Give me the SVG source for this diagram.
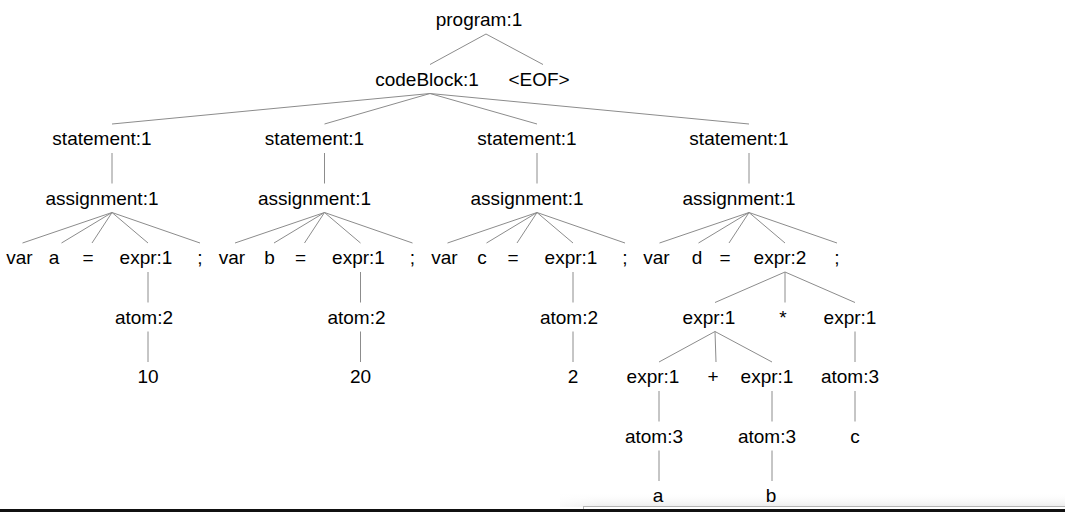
<svg xmlns="http://www.w3.org/2000/svg" width="1065" height="512" viewBox="0 0 1065 512">
<defs>
<style>
text{font-family:"Liberation Sans",Arial,Helvetica,sans-serif;font-size:19px;fill:#000;text-anchor:middle}
.edges line{stroke:#8c8c8c;stroke-width:1}
</style>
<linearGradient id="shade" x1="0" y1="0" x2="0" y2="1">
<stop offset="0" stop-color="#ffffff" stop-opacity="0"/>
<stop offset="1" stop-color="#ececec"/>
</linearGradient>
<linearGradient id="fadeL" x1="0" y1="0" x2="1" y2="0">
<stop offset="0" stop-color="#fff" stop-opacity="1"/>
<stop offset="1" stop-color="#fff" stop-opacity="0"/>
</linearGradient>
</defs>
<rect width="1065" height="512" fill="#fff"/>
<rect x="560" y="492" width="505" height="15" fill="url(#shade)"/>
<rect x="540" y="490" width="60" height="17" fill="url(#fadeL)"/>
<g id="connectors" class="edges">
<line x1="486" y1="34" x2="430" y2="64.5"/>
<line x1="486" y1="34" x2="543" y2="64.5"/>
<line x1="430" y1="93.5" x2="112" y2="124"/>
<line x1="430" y1="93.5" x2="324.5" y2="124"/>
<line x1="430" y1="93.5" x2="537" y2="124"/>
<line x1="430" y1="93.5" x2="749" y2="124"/>
<line x1="112" y1="153" x2="112" y2="183.5"/>
<line x1="324.5" y1="153" x2="324.5" y2="183.5"/>
<line x1="537" y1="153" x2="537" y2="183.5"/>
<line x1="749" y1="153" x2="749" y2="183.5"/>
<line x1="112" y1="212.5" x2="22.5" y2="243"/>
<line x1="112" y1="212.5" x2="61.5" y2="243"/>
<line x1="112" y1="212.5" x2="92" y2="243"/>
<line x1="112" y1="212.5" x2="148" y2="243"/>
<line x1="112" y1="212.5" x2="200" y2="243"/>
<line x1="324.5" y1="212.5" x2="235" y2="243"/>
<line x1="324.5" y1="212.5" x2="274" y2="243"/>
<line x1="324.5" y1="212.5" x2="304.5" y2="243"/>
<line x1="324.5" y1="212.5" x2="360.5" y2="243"/>
<line x1="324.5" y1="212.5" x2="412.5" y2="243"/>
<line x1="537" y1="212.5" x2="447.5" y2="243"/>
<line x1="537" y1="212.5" x2="486.5" y2="243"/>
<line x1="537" y1="212.5" x2="517" y2="243"/>
<line x1="537" y1="212.5" x2="573" y2="243"/>
<line x1="537" y1="212.5" x2="625" y2="243"/>
<line x1="749" y1="212.5" x2="659.5" y2="243"/>
<line x1="749" y1="212.5" x2="698.5" y2="243"/>
<line x1="749" y1="212.5" x2="729" y2="243"/>
<line x1="749" y1="212.5" x2="785" y2="243"/>
<line x1="749" y1="212.5" x2="837" y2="243"/>
<line x1="148" y1="272" x2="148" y2="302.5"/>
<line x1="360.5" y1="272" x2="360.5" y2="302.5"/>
<line x1="573" y1="272" x2="573" y2="302.5"/>
<line x1="148" y1="331.5" x2="148" y2="362"/>
<line x1="360.5" y1="331.5" x2="360.5" y2="362"/>
<line x1="573" y1="331.5" x2="573" y2="362"/>
<line x1="785" y1="272" x2="715" y2="302.5"/>
<line x1="785" y1="272" x2="785" y2="302.5"/>
<line x1="785" y1="272" x2="855" y2="302.5"/>
<line x1="715" y1="331.5" x2="659" y2="362"/>
<line x1="715" y1="331.5" x2="716" y2="362"/>
<line x1="715" y1="331.5" x2="772" y2="362"/>
<line x1="855" y1="331.5" x2="855" y2="362"/>
<line x1="659" y1="391" x2="659" y2="421.5"/>
<line x1="772" y1="391" x2="772" y2="421.5"/>
<line x1="855" y1="391" x2="855" y2="421.5"/>
<line x1="659" y1="450.5" x2="659" y2="481"/>
<line x1="772" y1="450.5" x2="772" y2="481"/>
</g>
<g id="program"><text x="479" y="26">program:1</text></g>
<g id="codeBlock"><text x="427" y="85.5">codeBlock:1</text></g>
<g id="eof"><text x="539" y="85.5">&lt;EOF&gt;</text></g>
<g id="statement1"><text x="102" y="145">statement:1</text></g>
<g id="statement2"><text x="314.5" y="145">statement:1</text></g>
<g id="statement3"><text x="527" y="145">statement:1</text></g>
<g id="statement4"><text x="739" y="145">statement:1</text></g>
<g id="assignment1"><text x="102" y="204.5">assignment:1</text></g>
<g id="assignment2"><text x="314.5" y="204.5">assignment:1</text></g>
<g id="assignment3"><text x="527" y="204.5">assignment:1</text></g>
<g id="assignment4"><text x="739" y="204.5">assignment:1</text></g>
<g id="var1"><text x="19.5" y="264">var</text></g>
<g id="id_a"><text x="54" y="264">a</text></g>
<g id="eq1"><text x="88" y="264">=</text></g>
<g id="expr1a"><text x="146" y="264">expr:1</text></g>
<g id="semi1"><text x="200" y="264">;</text></g>
<g id="var2"><text x="232" y="264">var</text></g>
<g id="id_b"><text x="269.5" y="264">b</text></g>
<g id="eq2"><text x="300.5" y="264">=</text></g>
<g id="expr1b"><text x="358.5" y="264">expr:1</text></g>
<g id="semi2"><text x="412.5" y="264">;</text></g>
<g id="var3"><text x="444.5" y="264">var</text></g>
<g id="id_c"><text x="482" y="264">c</text></g>
<g id="eq3"><text x="513" y="264">=</text></g>
<g id="expr1c"><text x="571" y="264">expr:1</text></g>
<g id="semi3"><text x="625" y="264">;</text></g>
<g id="var4"><text x="656.5" y="264">var</text></g>
<g id="id_d"><text x="697" y="264">d</text></g>
<g id="eq4"><text x="725" y="264">=</text></g>
<g id="expr2"><text x="780" y="264">expr:2</text></g>
<g id="semi4"><text x="837" y="264">;</text></g>
<g id="atom2a"><text x="144" y="323.5">atom:2</text></g>
<g id="atom2b"><text x="356.5" y="323.5">atom:2</text></g>
<g id="atom2c"><text x="569" y="323.5">atom:2</text></g>
<g id="expr1_l"><text x="709" y="323.5">expr:1</text></g>
<g id="star"><text x="783" y="323.5">*</text></g>
<g id="expr1_r"><text x="850" y="323.5">expr:1</text></g>
<g id="num10"><text x="148" y="383">10</text></g>
<g id="num20"><text x="360.5" y="383">20</text></g>
<g id="num2"><text x="573" y="383">2</text></g>
<g id="expr1_ll"><text x="653" y="383">expr:1</text></g>
<g id="plus"><text x="713" y="383">+</text></g>
<g id="expr1_lr"><text x="767" y="383">expr:1</text></g>
<g id="atom3_r"><text x="850" y="383">atom:3</text></g>
<g id="atom3_a"><text x="654" y="442.5">atom:3</text></g>
<g id="atom3_b"><text x="767" y="442.5">atom:3</text></g>
<g id="leaf_c"><text x="855" y="442.5">c</text></g>
<g id="leaf_a"><text x="658" y="502">a</text></g>
<g id="leaf_b"><text x="771" y="502">b</text></g>
<rect x="583.5" y="506.5" width="490" height="6" fill="#fff" stroke="#b4b4b4" stroke-width="1"/>
<rect x="0" y="509" width="1065" height="3" fill="#111"/>
</svg>
